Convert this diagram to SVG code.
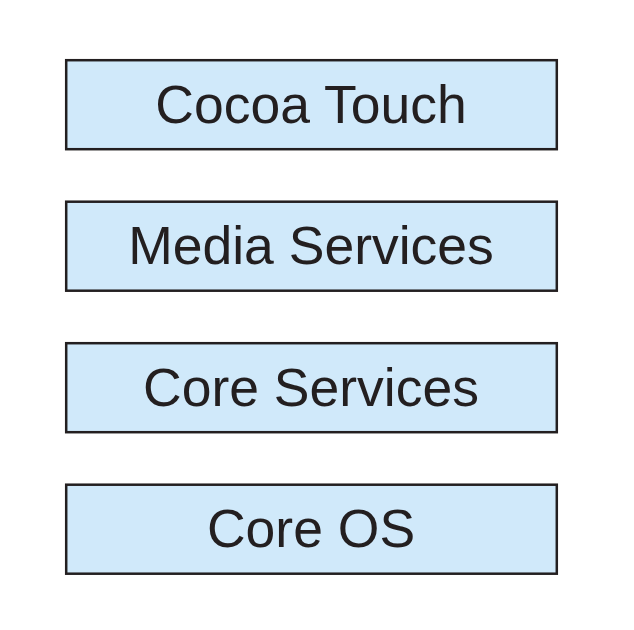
<svg xmlns="http://www.w3.org/2000/svg" width="634" height="630" viewBox="0 0 634 630">
<style>
.box{fill:#d0e9fa;stroke:#231f20;stroke-width:2.5}
.lbl{font-family:"Liberation Sans",Arial,sans-serif;font-size:53.5px;fill:#231f20;text-anchor:middle}
</style>
<rect width="634" height="630" fill="#ffffff"/>
<g id="cocoa-touch"><rect class="box" x="66.2" y="60.2" width="490.6" height="89"/><text class="lbl" x="311" y="122.5">Cocoa Touch</text></g>
<g id="media-services"><rect class="box" x="66.2" y="201.7" width="490.6" height="89"/><text class="lbl" x="311" y="264">Media Services</text></g>
<g id="core-services"><rect class="box" x="66.2" y="343.2" width="490.6" height="89"/><text class="lbl" x="311" y="405.5">Core Services</text></g>
<g id="core-os"><rect class="box" x="66.2" y="484.7" width="490.6" height="89"/><text class="lbl" x="311" y="547">Core OS</text></g>
<g id="connectors"></g>
</svg>
